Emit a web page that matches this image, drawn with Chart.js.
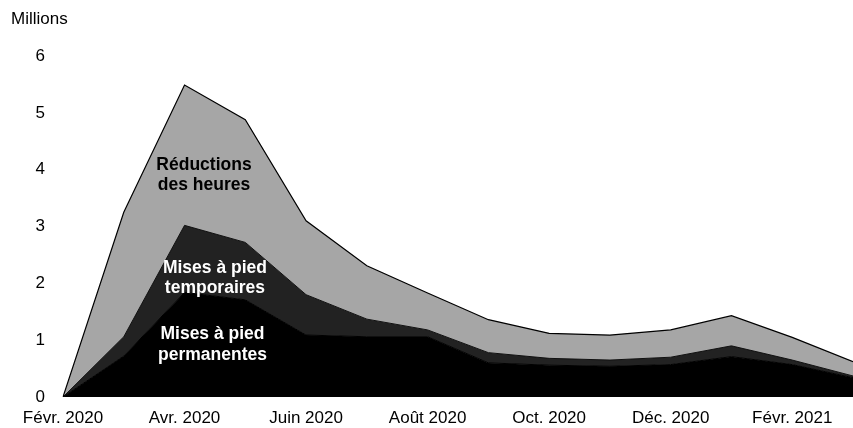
<!DOCTYPE html>
<html>
<head>
<meta charset="utf-8">
<script src="https://cdn.jsdelivr.net/npm/chart.js@4"></script>
<style>
  body { margin: 0; background: #fff; }
  #wrap { width: 853px; height: 428px; position: relative; }
</style>
</head>
<body>
<div id="wrap"><canvas id="myChart"></canvas></div>
<script>
const months = ['Févr. 2020', 'Mars 2020', 'Avr. 2020', 'Mai 2020', 'Juin 2020', 'Juil. 2020', 'Août 2020',
    'Sept. 2020', 'Oct. 2020', 'Nov. 2020', 'Déc. 2020', 'Janv. 2021', 'Févr. 2021', 'Mars 2021'];
const permanentes = [0, 0.72, 1.84, 1.71, 1.09, 1.06, 1.06, 0.60, 0.56, 0.54, 0.57, 0.71, 0.57, 0.34];
const temporaires = [0, 0.34, 1.18, 1.01, 0.71, 0.31, 0.12, 0.18, 0.12, 0.11, 0.13, 0.19, 0.08, 0.03];
const heures = [0, 2.19, 2.47, 2.16, 1.30, 0.94, 0.65, 0.58, 0.44, 0.44, 0.48, 0.53, 0.40, 0.25];
const yTicks = [0, 1, 2, 3, 4, 5, 6];

const FONT = 'Liberation Sans, Arial, sans-serif';

// labels drawn on the areas, anchored in data units
const areaLabels = [
    { lines: ['Réductions', 'des heures'], x: 2.32, y: 4.08, color: '#000' },
    { lines: ['Mises à pied', 'temporaires'], x: 2.5, y: 2.27, color: '#fff' },
    { lines: ['Mises à pied', 'permanentes'], x: 2.46, y: 1.1, color: '#fff' }
];

const textPlugin = {
    id: 'texts',
    afterDatasetsDraw(chart) {
        const c = chart.ctx;
        const xs = chart.scales.x, ys = chart.scales.y;
        c.save();
        c.font = '17px ' + FONT;
        c.fillStyle = '#000';
        c.textAlign = 'left';
        c.textBaseline = 'middle';
        c.fillText('Millions', 11, 19.5);
        c.font = 'bold 17.5px ' + FONT;
        c.textAlign = 'center';
        areaLabels.forEach(l => {
            const px = xs.getPixelForValue(l.x);
            const py = ys.getPixelForValue(l.y);
            c.fillStyle = l.color;
            l.lines.forEach((t, i) => c.fillText(t, px, py + i * 20.5));
        });
        c.restore();
    }
};

const ctx = document.getElementById('myChart');

new Chart(ctx, {
    type: 'line',
    data: {
        labels: months,
        datasets: [
            {
                label: 'Mises à pied permanentes',
                data: permanentes,
                backgroundColor: '#000000',
                borderColor: '#000000',
                borderWidth: 1,
                fill: 'origin'
            },
            {
                label: 'Mises à pied temporaires',
                data: temporaires,
                backgroundColor: '#222222',
                borderColor: '#111111',
                borderWidth: 1,
                fill: '-1'
            },
            {
                label: 'Réductions des heures',
                data: heures,
                backgroundColor: '#a6a6a6',
                borderColor: '#000000',
                borderWidth: 1.2,
                fill: '-1'
            }
        ]
    },
    options: {
        responsive: true,
        maintainAspectRatio: false,
        animation: false,
        elements: { point: { radius: 0 }, line: { tension: 0 } },
        layout: { padding: { top: 56, right: 0, left: 0, bottom: 0 } },
        plugins: {
            legend: { display: false },
            tooltip: { enabled: false }
        },
        scales: {
            x: {
                offset: false,
                // tick marks hidden; their length only pushes the labels down
                grid: { display: false, drawTicks: true, tickLength: 11 },
                border: { display: false },
                ticks: {
                    color: '#000',
                    font: { family: FONT, size: 17 },
                    padding: 0,
                    maxRotation: 0,
                    autoSkip: false,
                    callback: (v, i) => (i % 2 === 0 ? months[i] : '')
                },
                afterFit: s => { s.height = 31; }
            },
            y: {
                stacked: true,
                min: 0,
                max: 6,
                grid: { display: false, drawTicks: false },
                border: { display: false },
                afterBuildTicks: s => { s.ticks = yTicks.map(v => ({ value: v })); },
                ticks: {
                    color: '#000',
                    font: { family: FONT, size: 17 },
                    padding: 18
                },
                afterFit: s => { s.width = 63; }
            }
        }
    },
    plugins: [textPlugin]
});
</script>
</body>
</html>
